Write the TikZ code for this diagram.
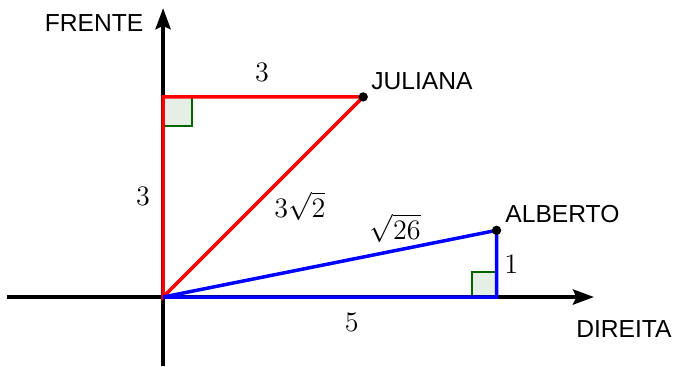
\documentclass[tikz,border=0pt]{standalone}
\usepackage{fontspec}
\newfontfamily\labelfont{Liberation Sans}
\definecolor{LineRed}  {HTML}{FF0000}
\definecolor{LineBlue} {HTML}{0000FF}
\definecolor{MarkGreen}{HTML}{006400}
\definecolor{MarkFill} {HTML}{E5EFE5}
\usetikzlibrary{arrows.meta,positioning}

\begin{document}
\begin{tikzpicture}[
    axis/.style={line width=1.5pt,-{Stealth[length=9pt,width=6.5pt,inset=1.5pt]}},
    redside/.style={LineRed,line width=1.5pt},
    blueside/.style={LineBlue,line width=1.5pt},
    rightmark/.style={draw=MarkGreen,fill=MarkFill,line width=0.9pt},
    dirlabel/.style={font=\labelfont\fontsize{10.5}{12}\selectfont,inner sep=1pt},
    sidelabel/.style={font=\fontsize{12}{14}\selectfont,inner sep=1pt}]
  \useasboundingbox (-2.445,-1.035) rectangle (7.66,4.453);
  % Points
  \coordinate (O)  at (0,0);
  \coordinate (J)  at (3,3);
  \coordinate (JF) at (0,3);
  \coordinate (A)  at (5,1);
  \coordinate (AF) at (5,0);
  \coordinate (XL) at (-2.34,0);
  \coordinate (XR) at (6.46,0);
  \coordinate (YB) at (0,-1.035);
  \coordinate (YT) at (0,4.33);
  % Right angle marks
  \path[rightmark] (JF) rectangle ++(0.43,-0.43);
  \path[rightmark] (AF) rectangle ++(-0.37,0.37);
  % Axes
  \draw[axis] (XL) -- (XR);
  \draw[axis] (YB) -- (YT);
  % Juliana triangle
  \draw[redside] (O) -- (JF) -- (J) -- cycle;
  % Alberto triangle
  \draw[blueside] (O) -- (AF) -- (A) -- cycle;
  \fill (J) circle (0.07);
  \fill (A) circle (0.07);
  % Labels
  \node[dirlabel] (frente)  at (-1.035,4.108) {FRENTE};
  \node[dirlabel] (direita) at (6.91,-0.48)   {DIREITA};
  \node[dirlabel,anchor=south west] (juliana) at (3.08,3.07) {JULIANA};
  \node[dirlabel,anchor=south west] (alberto) at (5.09,1.07) {ALBERTO};
  \node[sidelabel] (top)   at (1.484,3.36) {$3$};
  \node[sidelabel] (left)  at (-0.3,1.51)  {$3$};
  \node[sidelabel] (hypJ)  at (2.05,1.36)  {$3\sqrt{2}$};
  \node[sidelabel] (hypA)  at (3.48,1.03)  {$\sqrt{26}$};
  \node[sidelabel] (up)    at (5.22,0.495) {$1$};
  \node[sidelabel] (base)  at (2.83,-0.375) {$5$};
\end{tikzpicture}
\end{document}
